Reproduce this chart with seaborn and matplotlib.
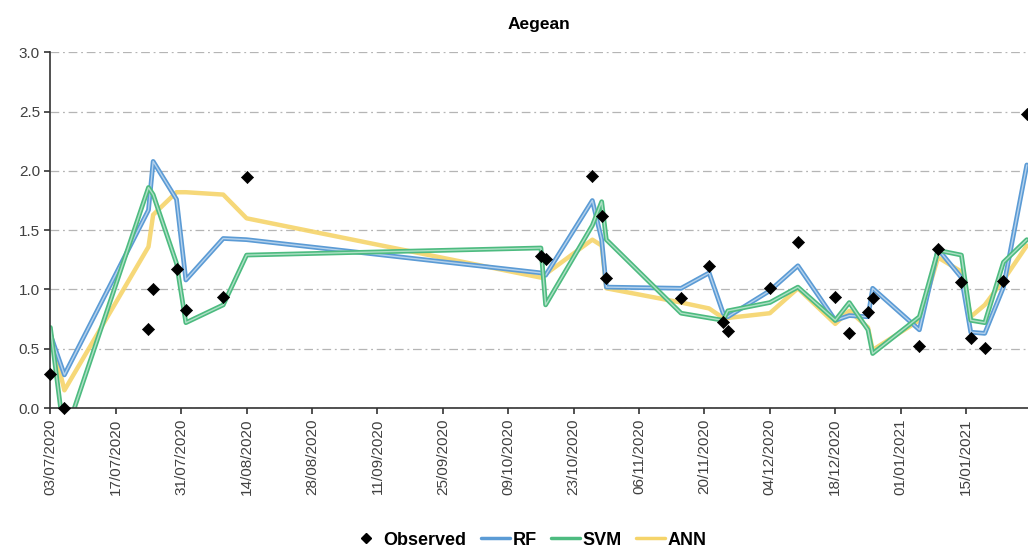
import matplotlib
matplotlib.use("Agg")
import matplotlib.pyplot as plt
import matplotlib.dates as mdates
import matplotlib.patheffects as pe
from matplotlib.lines import Line2D
import pandas as pd
import seaborn as sns

# observation dates (dd/mm/yyyy)
dates = ["03/07/2020", "06/07/2020", "24/07/2020", "25/07/2020", "30/07/2020",
         "01/08/2020", "09/08/2020", "14/08/2020", "16/10/2020", "17/10/2020",
         "27/10/2020", "29/10/2020", "30/10/2020", "15/11/2020", "21/11/2020",
         "24/11/2020", "25/11/2020", "04/12/2020", "10/12/2020", "18/12/2020",
         "21/12/2020", "25/12/2020", "26/12/2020", "05/01/2021", "09/01/2021",
         "14/01/2021", "16/01/2021", "19/01/2021", "23/01/2021", "28/01/2021"]

observed = [0.29, 0.00, 0.67, 1.00, 1.17, 0.83, 0.94, 1.95, 1.28, 1.26,
            1.96, 1.62, 1.10, 0.93, 1.20, 0.73, 0.65, 1.01, 1.40, 0.94,
            0.63, 0.81, 0.93, 0.52, 1.34, 1.06, 0.59, 0.51, 1.07, 2.48]

rf = [0.62, 0.28, 1.67, 2.08, 1.76, 1.08, 1.43, 1.42, 1.14, 1.12,
      1.75, 1.42, 1.02, 1.01, 1.14, 0.80, 0.77, 0.99, 1.20, 0.74,
      0.78, 0.77, 1.01, 0.66, 1.34, 1.10, 0.64, 0.63, 1.02, 2.05]

svm = [0.68, -0.25, 1.86, 1.80, 1.22, 0.72, 0.87, 1.29, 1.35, 0.87,
       1.54, 1.74, 1.42, 0.80, 0.76, 0.74, 0.82, 0.89, 1.02, 0.74,
       0.89, 0.66, 0.46, 0.77, 1.33, 1.29, 0.74, 0.72, 1.23, 1.42]

ann = [0.64, 0.15, 1.36, 1.63, 1.82, 1.82, 1.80, 1.60, 1.10, 1.13,
       1.42, 1.37, 1.01, 0.89, 0.84, 0.76, 0.76, 0.80, 1.01, 0.71,
       0.82, 0.68, 0.49, 0.74, 1.27, 1.15, 0.77, 0.87, 1.08, 1.37]

tick_start = "03/07/2020"
tick_end = "15/01/2021"

colors = {"RF": "#5b9bd5", "SVM": "#4dbb80", "ANN": "#f5d46a"}

sns.set_theme(style="white")
plt.rcParams["font.family"] = ["Liberation Sans", "DejaVu Sans"]

dt = pd.to_datetime(dates, format="%d/%m/%Y")
df = pd.DataFrame({"date": dt, "Observed": observed, "RF": rf, "SVM": svm, "ANN": ann})
long = df.melt(id_vars="date", value_vars=["ANN", "RF", "SVM"],
               var_name="model", value_name="value")

fig = plt.figure(figsize=(10.28, 5.5), dpi=100)
ax = fig.add_axes([0.049, 0.258, 0.951, 0.647])

sns.lineplot(data=long, x="date", y="value", hue="model", palette=colors,
             hue_order=["ANN", "RF", "SVM"], sort=False, legend=False, ax=ax)

# double-line look for RF and SVM, thick line for ANN
for line, name in zip(ax.lines, ["ANN", "RF", "SVM"]):
    if name == "ANN":
        line.set_linewidth(3.2)
        line.set_alpha(0.9)
    else:
        line.set_linewidth(3.4)
        line.set_path_effects([pe.Normal(),
                               pe.Stroke(linewidth=1.0, foreground="white", alpha=0.55)])

sns.scatterplot(data=df, x="date", y="Observed", marker="D", color="black",
                s=38, edgecolor="black", linewidth=0.5, zorder=5, clip_on=False, ax=ax)

ax.set_ylim(0, 3.0)
ax.set_yticks([0, 0.5, 1.0, 1.5, 2.0, 2.5, 3.0])
ax.yaxis.set_major_formatter(matplotlib.ticker.FormatStrFormatter("%.1f"))
ax.set_xlim(pd.Timestamp("2020-07-03"), pd.Timestamp("2021-01-28 06:00"))
ticks = pd.date_range(pd.to_datetime(tick_start, format="%d/%m/%Y"),
                      pd.to_datetime(tick_end, format="%d/%m/%Y"), freq="14D")
ax.set_xticks(ticks)
ax.xaxis.set_major_formatter(mdates.DateFormatter("%d/%m/%Y"))
plt.setp(ax.get_xticklabels(), rotation=90)

ax.grid(axis="y", color="#b5b5b5", linewidth=0.9, linestyle=(0, (7, 3, 1.5, 3)))
ax.set_axisbelow(True)
for side in ["top", "right"]:
    ax.spines[side].set_visible(False)
for side in ["left", "bottom"]:
    ax.spines[side].set_color("#333333")
    ax.spines[side].set_linewidth(1.2)
ax.tick_params(axis="both", labelsize=11, colors="#333333", length=4, width=1.2,
               direction="out", bottom=True, left=True)
ax.tick_params(axis="both", labelcolor="#404040")
ax.set_xlabel("")
ax.set_ylabel("")
ax.set_title("Aegean", fontsize=12.5, fontweight="bold", pad=17, color="black")

handles = [Line2D([], [], marker="D", color="black", linestyle="none", markersize=5),
           Line2D([], [], color=colors["RF"], linewidth=2.5),
           Line2D([], [], color=colors["SVM"], linewidth=2.5),
           Line2D([], [], color=colors["ANN"], linewidth=2.5)]
leg = fig.legend(handles, ["Observed", "RF", "SVM", "ANN"], loc="center",
                 bbox_to_anchor=(0.515, 0.018), ncol=4, frameon=False,
                 prop={"weight": "bold", "size": 13}, handlelength=1.6,
                 handletextpad=0.15, columnspacing=0.8)
for t in leg.get_texts():
    t.set_color("black")

fig.savefig("out.png", dpi=100)
